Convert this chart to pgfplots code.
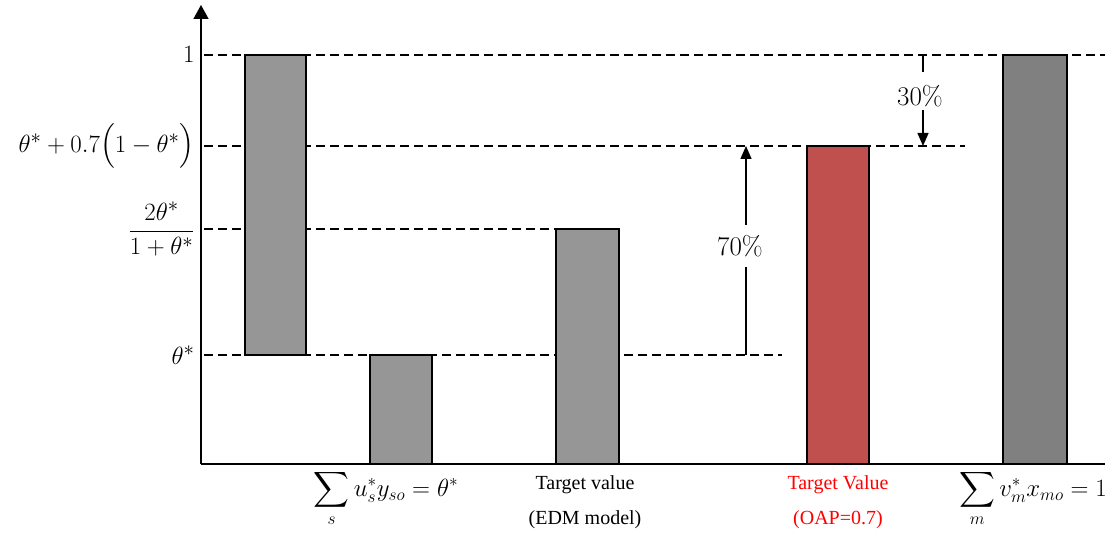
\documentclass[border=0pt]{standalone}
\usepackage{amsmath}
\usepackage{fontspec}
\setmainfont{Liberation Serif}
\newfontfamily\lmfont{Latin Modern Roman}
\usepackage{pgfplots}
\pgfplotsset{compat=1.18}
\usetikzlibrary{arrows.meta}
\definecolor{barg}{RGB}{150,150,150}
\definecolor{bard}{RGB}{128,128,128}
\definecolor{barr}{RGB}{192,80,77}
\definecolor{labred}{RGB}{255,0,0}
\begin{document}
\begin{tikzpicture}
\useasboundingbox (0,0) rectangle (1105pt,535pt);
\begin{axis}[
  at={(201pt,71pt)}, anchor=south west,
  scale only axis, width=904pt, height=459pt,
  xmin=201, xmax=1105, ymin=0, ymax=1.1222,
  axis lines=left,
  x axis line style={-, line width=1.6pt},
  y axis line style={-{Triangle[width=15pt,length=14pt]}, line width=1.6pt},
  xtick=\empty,
  ytick={0.2665,0.5746,0.7775,1},
  yticklabels={$\theta^*$, $\dfrac{2\theta^*}{1+\theta^*}$, $\theta^*+0.7\Bigl(1-\theta^*\Bigr)$, $1$},
  major tick length=0pt,
  yticklabel style={font=\fontsize{28}{31}\selectfont, xshift=-3pt},
  clip=false,
]
% dashed reference lines
\addplot[black, line width=1.2pt, dash pattern=on 9pt off 5pt] coordinates {(204,1) (1105,1)};
\addplot[black, line width=1.2pt, dash pattern=on 9pt off 5pt] coordinates {(204,0.7775) (965,0.7775)};
\addplot[black, line width=1.2pt, dash pattern=on 9pt off 5pt] coordinates {(204,0.5746) (556,0.5746)};
\addplot[black, line width=1.2pt, dash pattern=on 9pt off 5pt] coordinates {(204,0.2665) (782,0.2665)};
% bars
\addplot[fill=barg, draw=black, line width=1.3pt] coordinates {(245,0.2665) (306,0.2665) (306,1) (245,1)} -- cycle;
\addplot[fill=barg, draw=black, line width=1.3pt] coordinates {(370,0) (432,0) (432,0.2665) (370,0.2665)} -- cycle;
\addplot[fill=barg, draw=black, line width=1.3pt] coordinates {(556,0) (619,0) (619,0.5746) (556,0.5746)} -- cycle;
\addplot[fill=barr, draw=black, line width=1.3pt] coordinates {(807,0) (869,0) (869,0.7775) (807,0.7775)} -- cycle;
\addplot[fill=bard, draw=black, line width=1.3pt] coordinates {(1003,0) (1067,0) (1067,1) (1003,1)} -- cycle;
% 70% arrow
\draw[line width=1.3pt] (axis cs:746,0.2665) -- (axis cs:746,0.4817);
\draw[line width=1.3pt, -{Triangle[width=11pt,length=13pt]}] (axis cs:746,0.5844) -- (axis cs:746,0.7775);
\node[font=\lmfont\fontsize{27}{30}\selectfont] at (axis cs:740,0.533) {70\%};
% 30% arrow
\draw[line width=1.3pt] (axis cs:923,1) -- (axis cs:923,0.958);
\draw[line width=1.3pt, -{Triangle[width=11pt,length=13pt]}] (axis cs:923,0.8655) -- (axis cs:923,0.7775);
\node[font=\lmfont\fontsize{27}{30}\selectfont] at (axis cs:920,0.8998) {30\%};
% x labels
\node[inner sep=0pt, font=\fontsize{27}{29}\selectfont] at (axis cs:386,-0.085) {$\displaystyle\sum_s u_s^* y_{so}=\theta^*$};
\node[inner sep=0pt, align=center, font=\fontsize{20}{35}\selectfont] at (axis cs:585,-0.0935) {Target value\\(EDM model)};
\node[inner sep=0pt, align=center, text=labred, font=\fontsize{20}{35}\selectfont] at (axis cs:838,-0.0935) {Target Value\\(OAP=0.7)};
\node[inner sep=0pt, font=\fontsize{27}{29}\selectfont] at (axis cs:1033,-0.085) {$\displaystyle\sum_m v_m^* x_{mo}=1$};
\end{axis}
\end{tikzpicture}
\end{document}
